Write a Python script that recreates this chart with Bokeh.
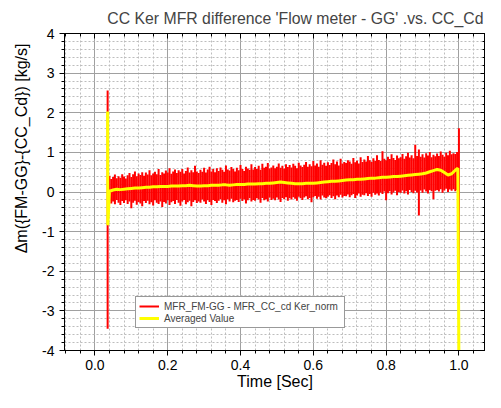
import numpy as np
from bokeh.plotting import figure
from bokeh.models import (LinearAxis, SingleIntervalTicker, Range1d, Title, Legend,
                          LegendItem, PrintfTickFormatter, ColumnDataSource,
                          CustomLabelingPolicy)
from bokeh.embed import file_html
from bokeh.resources import INLINE

# ---------------- data ----------------
# raw signal: min / max envelope of the noisy trace, sampled every 5 ms
red_grid_start = 0.04
red_grid_step = 0.005
red_grid_hi = [
    0.41, 0.33, 0.38, 0.44, 0.35, 0.40, 0.36, 0.45, 0.39, 0.34,
    0.42, 0.48, 0.38, 0.45, 0.52, 0.40, 0.47, 0.43, 0.50, 0.41,
    0.49, 0.44, 0.55, 0.42, 0.47, 0.51, 0.45, 0.58, 0.43, 0.50,
    0.47, 0.54, 0.49, 0.60, 0.46, 0.52, 0.57, 0.48, 0.55, 0.51,
    0.58, 0.47, 0.53, 0.62, 0.49, 0.55, 0.50, 0.66, 0.52, 0.48,
    0.56, 0.51, 0.61, 0.49, 0.57, 0.64, 0.52, 0.58, 0.50, 0.60,
    0.53, 0.62, 0.56, 0.51, 0.67, 0.57, 0.54, 0.63, 0.58, 0.52,
    0.61, 0.55, 0.68, 0.58, 0.53, 0.64, 0.59, 0.56, 0.70, 0.57,
    0.63, 0.58, 0.66, 0.56, 0.71, 0.61, 0.64, 0.73, 0.59, 0.62,
    0.67, 0.60, 0.64, 0.72, 0.61, 0.66, 0.59, 0.70, 0.63, 0.68,
    0.62, 0.71, 0.66, 0.60, 0.74, 0.67, 0.63, 0.69, 0.76, 0.64,
    0.70, 0.65, 0.78, 0.67, 0.72, 0.64, 0.80, 0.69, 0.74, 0.66,
    0.75, 0.68, 0.73, 0.82, 0.70, 0.77, 0.67, 0.84, 0.72, 0.76,
    0.73, 0.80, 0.77, 0.71, 0.86, 0.75, 0.79, 0.72, 0.88, 0.76,
    0.82, 0.77, 0.91, 0.80, 0.76, 0.85, 0.79, 0.93, 0.81, 0.78,
    1.03, 0.84, 0.80, 0.89, 0.83, 0.95, 0.86, 0.81, 0.92, 0.85,
    0.88, 0.96, 0.84, 0.90, 0.99, 0.87, 0.93, 0.85, 1.19, 0.91,
    1.07, 0.89, 0.95, 0.87, 0.98, 0.92, 1.01, 0.88, 0.94, 0.90,
    0.97, 0.91, 1.02, 0.94, 0.89, 0.99, 0.93, 1.04, 0.95, 0.98,
    0.96, 1.01,
]
red_grid_lo = [
    -0.22, -0.29, -0.24, -0.31, -0.20, -0.27, -0.33, -0.23, -0.28, -0.21,
    -0.30, -0.24, -0.41, -0.27, -0.22, -0.32, -0.25, -0.29, -0.36, -0.23,
    -0.28, -0.22, -0.31, -0.26, -0.34, -0.21, -0.27, -0.30, -0.24, -0.38,
    -0.25, -0.29, -0.21, -0.33, -0.26, -0.23, -0.30, -0.20, -0.27, -0.35,
    -0.24, -0.20, -0.31, -0.26, -0.22, -0.36, -0.25, -0.21, -0.28, -0.24,
    -0.27, -0.19, -0.24, -0.30, -0.21, -0.25, -0.33, -0.20, -0.23, -0.28,
    -0.22, -0.18, -0.27, -0.21, -0.31, -0.19, -0.24, -0.17, -0.26, -0.22,
    -0.20, -0.25, -0.17, -0.23, -0.19, -0.29, -0.21, -0.16, -0.24, -0.20,
    -0.22, -0.16, -0.19, -0.27, -0.15, -0.21, -0.18, -0.24, -0.14, -0.20,
    -0.17, -0.21, -0.14, -0.19, -0.25, -0.15, -0.18, -0.13, -0.22, -0.16,
    -0.19, -0.13, -0.17, -0.22, -0.12, -0.16, -0.20, -0.14, -0.11, -0.18,
    -0.15, -0.26, -0.13, -0.10, -0.17, -0.12, -0.19, -0.09, -0.14, -0.16,
    -0.12, -0.08, -0.15, -0.11, -0.18, -0.09, -0.13, -0.07, -0.14, -0.10,
    -0.11, -0.06, -0.13, -0.08, -0.05, -0.15, -0.09, -0.04, -0.12, -0.07,
    -0.08, -0.03, -0.10, -0.05, -0.12, -0.02, -0.07, -0.04, -0.09, -0.01,
    -0.05, 0.01, -0.21, -0.03, 0.02, -0.06, -0.01, 0.03, -0.08, 0.00,
    -0.02, 0.04, -0.04, 0.02, -0.06, 0.05, 0.00, -0.03, 0.03, -0.01,
    -0.59, 0.04, -0.02, 0.06, 0.01, -0.04, 0.05, 0.02, -0.18, 0.03,
    0.05, 0.01, 0.07, -0.02, 0.04, 0.08, 0.00, 0.06, 0.03, 0.07,
    0.02, 0.05,
]
# start-up and shut-down transients of the raw signal
red_spike_t = [0.035, 1.0]
red_spike_hi = [2.56, 1.61]
red_spike_lo = [-3.45, -4.3]

# averaged value, sampled every 10 ms, plus the transients
avg_grid_start = 0.04
avg_grid_step = 0.01
avg_grid = [
    0.02, 0.05, 0.07, 0.06, 0.07, 0.08, 0.09, 0.10, 0.10, 0.11,
    0.12, 0.12, 0.13, 0.13, 0.14, 0.14, 0.14, 0.15, 0.15, 0.15,
    0.16, 0.16, 0.17, 0.16, 0.15, 0.15, 0.16, 0.16, 0.17, 0.17,
    0.17, 0.18, 0.18, 0.17, 0.18, 0.19, 0.19, 0.19, 0.20, 0.20,
    0.20, 0.21, 0.21, 0.22, 0.22, 0.23, 0.24, 0.25, 0.24, 0.23,
    0.22, 0.21, 0.21, 0.21, 0.22, 0.22, 0.22, 0.23, 0.24, 0.25,
    0.26, 0.27, 0.27, 0.28, 0.29, 0.30, 0.31, 0.31, 0.32, 0.32,
    0.33, 0.34, 0.35, 0.35, 0.36, 0.37, 0.37, 0.38, 0.39, 0.39,
    0.40, 0.41, 0.42, 0.43, 0.44, 0.45, 0.46, 0.48, 0.51, 0.54,
    0.57, 0.55, 0.49, 0.43, 0.46, 0.55,
]
avg_head_t = [0.035, 0.0355]
avg_head = [2.03, -0.84]
avg_tail_t = [0.997, 1.0]
avg_tail = [0.60, -4.3]

title_text = "CC Ker MFR difference 'Flow meter - GG' .vs. CC_Cd"
x_label = "Time [Sec]"
y_label = "\u0394m({FM-GG}-{CC_Cd}) [kg/s]"
legend_labels = ["MFR_FM-GG - MFR_CC_cd Ker_norm", "Averaged Value"]

# ---------------- build sources ----------------
red_grid_t = [round(red_grid_start + red_grid_step * i, 4) for i in range(len(red_grid_hi))]
red_t = [red_spike_t[0]] + red_grid_t + [red_spike_t[1]]
red_hi = [red_spike_hi[0]] + red_grid_hi + [red_spike_hi[1]]
red_lo = [red_spike_lo[0]] + red_grid_lo + [red_spike_lo[1]]
red_src = ColumnDataSource(dict(t=red_t, hi=red_hi, lo=red_lo))

avg_grid_t = [round(avg_grid_start + avg_grid_step * i, 4) for i in range(len(avg_grid))]
avg_t = avg_head_t + avg_grid_t + avg_tail_t
avg_v = avg_head + avg_grid + avg_tail
avg_src = ColumnDataSource(dict(t=avg_t, v=avg_v))

FONT = "Liberation Sans"

p = figure(width=485, height=392,
           x_range=Range1d(-0.0835, 1.073), y_range=Range1d(-4, 4),
           output_backend="svg", toolbar_location=None,
           min_border_left=63, min_border_right=0,
           min_border_top=33, min_border_bottom=41)
p.background_fill_color = "white"
p.border_fill_color = "white"
p.outline_line_color = "black"

xt = SingleIntervalTicker(interval=0.2, num_minor_ticks=5)
yt = SingleIntervalTicker(interval=1, num_minor_ticks=5)

for ax, tk in ((p.xaxis[0], xt), (p.yaxis[0], yt)):
    ax.ticker = tk
    ax.major_tick_out = 5
    ax.major_tick_in = 0
    ax.minor_tick_out = 3
    ax.minor_tick_in = 0
    ax.axis_line_color = "black"
    ax.major_tick_line_color = "black"
    ax.minor_tick_line_color = "black"
    ax.major_label_text_font = FONT
    ax.major_label_text_font_size = "14px"
    ax.major_label_text_color = "black"

p.xaxis[0].formatter = PrintfTickFormatter(format="%.1f")
p.yaxis[0].formatter = PrintfTickFormatter(format="%d")
p.xaxis[0].major_label_standoff = 4
p.yaxis[0].major_label_standoff = 5
p.xaxis[0].axis_label = x_label
p.xaxis[0].axis_label_text_font = FONT
p.xaxis[0].axis_label_text_font_size = "16px"
p.xaxis[0].axis_label_text_font_style = "normal"
p.xaxis[0].axis_label_text_color = "black"
p.xaxis[0].axis_label_standoff = 0

hide_all = CustomLabelingPolicy(code="for (const i of indices) { indices.unset(i) }\nreturn indices")
for side, tk in (("above", xt), ("right", yt)):
    ax = LinearAxis(ticker=tk, major_tick_in=5, major_tick_out=0,
                    minor_tick_in=3, minor_tick_out=0,
                    major_label_policy=hide_all, major_label_standoff=0,
                    major_label_text_font_size="0px",
                    axis_line_color="black", major_tick_line_color="black",
                    minor_tick_line_color="black")
    p.add_layout(ax, side)

for g, tk in ((p.xgrid[0], xt), (p.ygrid[0], yt)):
    g.ticker = tk
    g.grid_line_color = "#A0A0A0"
    g.grid_line_width = 1
    g.minor_grid_line_color = "#BDBDBD"
    g.minor_grid_line_dash = "2 2"
    g.minor_grid_line_width = 1

red_r = p.segment(x0="t", y0="lo", x1="t", y1="hi", source=red_src,
                  line_color="#FF0000", line_width=2)
avg_r = p.line(x="t", y="v", source=avg_src, line_color="#FFFF00", line_width=3)

legend = Legend(items=[LegendItem(label=legend_labels[0], renderers=[red_r]),
                       LegendItem(label=legend_labels[1], renderers=[avg_r])],
                location=(71, 22), glyph_width=20, glyph_height=12,
                label_height=12, label_width=177, label_standoff=5,
                padding=3, spacing=0, margin=0,
                label_text_font=FONT, label_text_font_size="10px",
                border_line_color="#333333", border_line_width=1,
                background_fill_color="white", background_fill_alpha=1)
p.add_layout(legend)

ytitle = Title(text=y_label, align="right", offset=10, standoff=20,
               text_font=FONT, text_font_size="16px", text_font_style="normal",
               text_color="black")
p.add_layout(ytitle, "left")

p.title.text = title_text
p.title.text_font = FONT
p.title.text_font_size = "15.8px"
p.title.text_font_style = "normal"
p.title.align = "right"
p.title.offset = 2
p.title.standoff = 10
p.title.vertical_align = "top"

open("out.html", "w").write(file_html(p, INLINE))
